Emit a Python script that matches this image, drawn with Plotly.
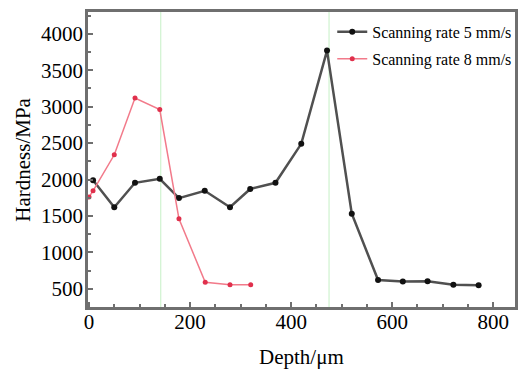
import plotly.graph_objects as go

# Data
depth_5 = [8, 50, 91, 140, 178, 229, 279, 319, 369, 420, 471, 520, 572, 621, 670, 721, 771]
hard_5 = [1990, 1620, 1955, 2010, 1745, 1845, 1620, 1870, 1955, 2490, 3770, 1530, 620, 600, 605, 555, 550]

depth_8 = [0, 8, 50, 91, 140, 178, 230, 279, 320]
hard_8 = [1760, 1845, 2340, 3120, 2960, 1460, 590, 555, 555]

name_5 = "Scanning rate 5 mm/s"
name_8 = "Scanning rate 8 mm/s"

boundary_depths = [142, 475]

x_ticks = [0, 200, 400, 600, 800]
y_ticks = [500, 1000, 1500, 2000, 2500, 3000, 3500, 4000]

x_title = "Depth/μm"
y_title = "Hardness/MPa"

FONT = "Liberation Serif, Times New Roman, serif"

fig = go.Figure()

for bd in boundary_depths:
    fig.add_shape(type="line", xref="x", yref="paper", x0=bd, x1=bd, y0=0, y1=1,
                  line=dict(color="rgba(150,225,150,0.55)", width=1), layer="below")

fig.add_trace(go.Scatter(
    x=depth_5, y=hard_5, mode="lines+markers", name=name_5, legendgroup="a",
    line=dict(color="#505050", width=2.5),
    marker=dict(color="#111111", size=6, symbol="circle"),
))
fig.add_trace(go.Scatter(
    x=depth_8, y=hard_8, mode="lines+markers", name=name_8, legendgroup="b",
    line=dict(color="#f27a8a", width=1.5),
    marker=dict(color="#e0304c", size=5, symbol="circle"),
))

axis_common = dict(
    showgrid=False, zeroline=False, showline=True, mirror=True, automargin=False,
    linecolor="#6f6f6f", linewidth=2.5, ticks="inside", ticklen=5,
    tickcolor="#6f6f6f", tickwidth=1.5,
    tickfont=dict(family=FONT, size=21, color="black"),
)

fig.update_xaxes(
    range=[-2, 843], tickvals=x_ticks, ticklabelstandoff=-6,
    minor=dict(dtick=50, tick0=0, ticks="inside", ticklen=3, tickcolor="#6f6f6f"),
    **axis_common,
)
fig.update_yaxes(
    range=[250, 4300], tickvals=y_ticks, ticklabelstandoff=-2,
    minor=dict(dtick=250, tick0=0, ticks="inside", ticklen=3, tickcolor="#6f6f6f"),
    **axis_common,
)

fig.add_annotation(text=x_title, xref="paper", yref="paper", x=0.5, y=-0.17,
                   xanchor="center", yanchor="middle", showarrow=False,
                   font=dict(family=FONT, size=21, color="black"))
fig.add_annotation(text=y_title, xref="paper", yref="paper", x=-0.154, y=0.5,
                   xanchor="center", yanchor="middle", showarrow=False, textangle=-90,
                   font=dict(family=FONT, size=21, color="black"))

fig.update_layout(
    width=525, height=369,
    margin=dict(l=88, r=8, t=12, b=62),
    plot_bgcolor="white", paper_bgcolor="white",
    font=dict(family=FONT, color="black"),
    legend=dict(
        x=0.572, y=0.99, xanchor="left", yanchor="top",
        bgcolor="rgba(0,0,0,0)", borderwidth=0,
        font=dict(family=FONT, size=16, color="black"),
        tracegroupgap=3, itemwidth=30,
    ),
)

fig.write_html("out.html", config={"displayModeBar": False},
               post_script="document.body.style.margin='0';")
